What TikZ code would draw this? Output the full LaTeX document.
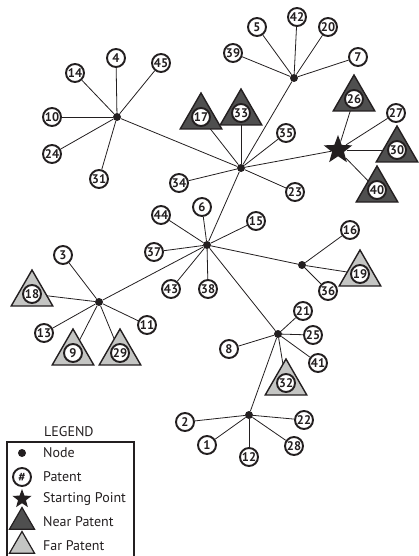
\documentclass[tikz,border=0pt]{standalone}
\usepackage{fontspec}
\setmainfont{PT Sans}
\usetikzlibrary{shapes.geometric}
\pgfdeclarelayer{bg}
\pgfsetlayers{bg,main}
\definecolor{ink}{HTML}{231F20}
\definecolor{nearfill}{HTML}{4F4F4F}
\definecolor{farfill}{HTML}{C4C5C3}
\tikzset{
  pat/.style={circle, draw=ink, line width=1.9pt, fill=white, minimum size=18pt, inner sep=0pt,
    font=\bfseries\fontsize{12.5}{12.5}\selectfont, text=ink},
  hub/.style={circle, fill=ink, minimum size=8pt, inner sep=0pt},
  tri/.style={regular polygon, regular polygon sides=3, draw=ink, line width=1.4pt,
    minimum size=48pt, inner sep=0pt},
  neartri/.style={tri, fill=nearfill},
  fartri/.style={tri, fill=farfill},
  startstar/.style={star, star points=5, star point ratio=2.4, fill=ink, minimum size=30pt, inner sep=0pt},
  edge/.style={draw=ink, line width=0.8pt},
  lab/.style={anchor=west, font=\fontsize{14}{14}\selectfont, text=ink, inner sep=0pt}
}
\begin{document}
\begin{tikzpicture}[x=1pt,y=-1pt]
\useasboundingbox (0,0) rectangle (419,556);
% hubs
\node[hub] (A) at (117,117) {};
\node[hub] (B) at (294,78) {};
\node[hub] (C) at (241,168) {};
\node[hub] (D) at (99,302) {};
\node[hub] (E) at (207,245) {};
\node[hub] (F) at (302,265) {};
\node[hub] (G) at (278,334) {};
\node[hub] (H) at (249,415) {};
\node[startstar] (S) at (338,150) {};
% triangles
\node[neartri] (t17) at (201,117) {};
\node[neartri] (t33) at (241,113) {};
\node[neartri] (t26) at (354,99) {};
\node[neartri] (t30) at (397,150) {};
\node[neartri] (t40) at (377,190) {};
\node[fartri] (t18) at (32,294) {};
\node[fartri] (t9) at (73,353) {};
\node[fartri] (t29) at (120,353) {};
\node[fartri] (t19) at (360,274) {};
\node[fartri] (t32) at (286,383) {};
\foreach \n in {17,33,26,30,40,18,9,29,19,32}
  \node[pat] (p\n) at (t\n.center) {\n};
% patents
\foreach \n/\x/\y in {4/116/58,14/75/73,45/161/63,10/52/117,24/52/154,31/99/179,34/179/183,
  5/257/27,42/297/17,20/328/27,39/233/53,7/358/57,35/286/133,23/295/192,27/396/113,
  3/63/255,13/44/333,11/147/325,44/161/215,37/154/252,43/171/289,6/202/207,38/208/289,15/256/221,
  16/350/230,36/328/291,21/303/311,25/313/335,8/229/349,41/318/363,
  2/185/422,1/207/445,12/249/457,28/294/446,22/304/420}
  \node[pat] (p\n) at (\x,\y) {\n};
% edges
\begin{pgfonlayer}{bg}
\foreach \n in {4,14,45,10,24,31} \draw[edge] (A) -- (p\n);
\foreach \n in {5,42,20,39,7} \draw[edge] (B) -- (p\n);
\foreach \n in {34,35,23} \draw[edge] (C) -- (p\n);
\draw[edge] (C) -- (t17.center);
\draw[edge] (C) -- (t33.center);
\draw[edge] (C) -- (A);
\draw[edge] (C) -- (B);
\draw[edge] (C) -- (S);
\draw[edge] (C) -- (E);
\draw[edge] (S) -- (p27);
\foreach \n in {26,30,40} \draw[edge] (S) -- (t\n.center);
\foreach \n in {6,44,37,43,38,15} \draw[edge] (E) -- (p\n);
\draw[edge] (E) -- (D);
\draw[edge] (E) -- (F);
\draw[edge] (E) -- (G);
\foreach \n in {3,13,11} \draw[edge] (D) -- (p\n);
\foreach \n in {18,9,29} \draw[edge] (D) -- (t\n.center);
\draw[edge] (F) -- (p16);
\draw[edge] (F) -- (p36);
\draw[edge] (F) -- (t19.center);
\foreach \n in {21,25,8,41} \draw[edge] (G) -- (p\n);
\draw[edge] (G) -- (t32.center);
\draw[edge] (G) -- (H);
\foreach \n in {2,1,12,28,22} \draw[edge] (H) -- (p\n);
\end{pgfonlayer}
% legend
\node[lab] (lt) at (44,432) {LEGEND};
\draw[draw=ink, line width=1.4pt] (7,560) -- (7,442) -- (134,442) -- (134,560);
\node[hub] (lhub) at (22,453) {};
\node[lab] (l1) at (43,453) {Node};
\node[pat] (lpat) at (22,477) {\#};
\node[lab] (l2) at (43,477) {Patent};
\node[star, star points=5, star point ratio=2.4, fill=ink, minimum size=20pt, inner sep=0pt] (lstar) at (22,499) {};
\node[lab] (l3) at (43,499) {Starting Point};
\node[tri, fill=nearfill, minimum size=29pt, line width=1.2pt] (lnear) at (22,522) {};
\node[lab] (l4) at (43,522) {Near Patent};
\node[tri, fill=farfill, minimum size=29pt, line width=1.2pt] (lfar) at (22,546) {};
\node[lab] (l5) at (43,546) {Far Patent};
\end{tikzpicture}
\end{document}
